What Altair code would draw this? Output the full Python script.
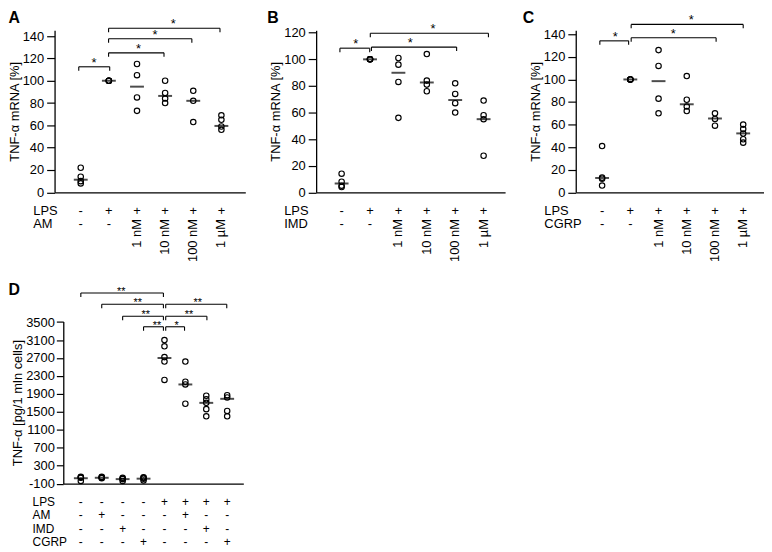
import altair as alt
import pandas as pd

FONT = "Liberation Sans"

# ---------------- data ----------------
# Panel A (AM)
a_lps = ["-", "+", "+", "+", "+", "+"]
a_dose = ["-", "-", "1 nM", "10 nM", "100 nM", "1 µM"]
a_points = [[22, 14, 10, 8], [100, 100, 100, 100], [115, 105, 85, 73],
            [100, 89, 84, 80], [91, 82, 63], [69, 65, 59, 56]]
a_median = [11.3, 100, 94.7, 86.4, 82, 59.5]
a_br_from = [-0.07, 0.99, 0.99, 0.99]
a_br_to = [1.03, 2.96, 3.95, 4.95]
a_br_level = [112.5, 125, 137.6, 147]
a_star_pos = [0.47, 2.05, 2.64, 3.29]
a_star_text = ["*", "*", "*", "*"]
a_yticks = [0, 20, 40, 60, 80, 100, 120, 140]

# Panel B (IMD)
b_lps = ["-", "+", "+", "+", "+", "+"]
b_dose = ["-", "-", "1 nM", "10 nM", "100 nM", "1 µM"]
b_points = [[14, 8, 5, 4], [100, 100, 100, 100], [101, 96, 83, 56],
            [104, 84, 81, 76], [82, 74, 67, 60], [69, 58, 55, 27.5]]
b_median = [6.6, 100, 89.9, 82.6, 69.4, 55]
b_br_from = [-0.06, 1.05, 1.01]
b_br_to = [0.99, 4.05, 5.17]
b_br_level = [108.4, 109.2, 119.6]
b_star_pos = [0.5, 2.42, 3.22]
b_star_text = ["*", "*", "*"]
b_yticks = [0, 20, 40, 60, 80, 100, 120]

# Panel C (CGRP)
c_lps = ["-", "+", "+", "+", "+", "+"]
c_dose = ["-", "-", "1 nM", "10 nM", "100 nM", "1 µM"]
c_points = [[41, 13, 12, 6], [100, 100, 100, 100], [126, 112, 83, 70],
            [103, 82, 76, 72], [70, 65, 59], [60, 56, 52, 47, 44]]
c_median = [12.7, 100, 98.5, 78, 65.4, 52.2]
c_br_from = [-0.08, 1.03, 1.03]
c_br_to = [0.94, 4.04, 5.0]
c_br_level = [134.2, 137, 148.8]
c_star_pos = [0.47, 2.52, 3.16]
c_star_text = ["*", "*", "*"]
c_yticks = [0, 20, 40, 60, 80, 100, 120, 140]

# Panel D (TNF-alpha protein)
d_lps = ["-", "-", "-", "-", "+", "+", "+", "+"]
d_am = ["-", "+", "-", "-", "-", "+", "-", "-"]
d_imd = ["-", "-", "+", "-", "-", "-", "+", "-"]
d_cgrp = ["-", "-", "-", "+", "-", "-", "-", "+"]
d_points = [[50, 40, 30, -40], [50, 40, 30, 20], [30, 10, 0, -40], [40, 30, 10, -30],
            [3100, 2960, 2720, 2620, 2210], [2620, 2170, 2110, 1680],
            [1860, 1780, 1700, 1560, 1400], [1870, 1820, 1520, 1400]]
d_median = [20, 30, 0, 10, 2700, 2110, 1700, 1790]
d_br_from = [0, 1, 2, 3, 4.06, 4.06, 4.06]
d_br_to = [3.95, 3.95, 3.95, 3.95, 6.98, 6.03, 4.96]
d_br_level = [4147, 3897, 3632, 3396, 3897, 3632, 3396]
d_star_pos = [1.93, 2.72, 3.11, 3.64, 5.59, 5.17, 4.58]
d_star_text = ["**", "**", "**", "**", "**", "**", "*"]
d_yticks = [-100, 300, 700, 1100, 1500, 1900, 2300, 2700, 3100, 3500]


def panel(letter, letter_xy, ytitle, yticks, ydomain, xdomain, width, height,
          rows, row_names, rows_y, name_x, rotated_row, points, medians,
          br_from, br_to, br_level, star_pos, star_text, star_size, star_dy,
          xrange=None, yaxis_offset=0, tick_size=8, label_pad=3, table_font=13):
    xscale = alt.Scale(domain=xdomain, nice=False, zero=False)
    if xrange is not None:
        xscale = alt.Scale(domain=xdomain, range=xrange, nice=False, zero=False)
    yscale = alt.Scale(domain=ydomain, nice=False, zero=False)
    xaxis = alt.Axis(title=None, labels=False, ticks=False, grid=False,
                     domain=True, domainWidth=1.3)
    yaxis = alt.Axis(title=ytitle, values=yticks, grid=False, tickSize=tick_size,
                     labelPadding=label_pad, offset=yaxis_offset, titlePadding=1,
                     labelExpr="'' + datum.value", domainWidth=1.3, tickWidth=1.2)

    def X(f):
        return alt.X(f + ":Q", scale=xscale, axis=xaxis)

    def Y(f):
        return alt.Y(f + ":Q", scale=yscale, axis=yaxis)

    pts = pd.DataFrame([{"pos": i, "value": v} for i, vs in enumerate(points) for v in vs])
    med = pd.DataFrame({"pos": list(range(len(medians))), "value": medians})
    br = pd.DataFrame({"x1": br_from, "x2": br_to, "value": br_level,
                       "sp": star_pos, "st": star_text})
    ends = pd.DataFrame({"pos": br_from + br_to, "value": br_level + br_level})

    layers = [
        alt.Chart(pts).mark_point(shape="circle", filled=False, size=30,
                                  strokeWidth=1.15, color="black", opacity=1)
        .encode(x=X("pos"), y=Y("value")),
        alt.Chart(med).mark_tick(orient="horizontal", size=14, thickness=2, color="black")
        .encode(x=X("pos"), y=Y("value")),
        alt.Chart(br).mark_rule(color="black", strokeWidth=1.1)
        .encode(x=X("x1"), x2="x2:Q", y=Y("value")),
        alt.Chart(ends).mark_rule(color="black", strokeWidth=1.1, y2Offset=4)
        .encode(x=X("pos"), y=Y("value"), y2="value:Q"),
        alt.Chart(br).mark_text(fontSize=star_size, baseline="alphabetic", dy=star_dy,
                                color="black")
        .encode(x=X("sp"), y=Y("value"), text="st:N"),
    ]
    # treatment table below the axis
    for ri, (labels, ry) in enumerate(zip(rows, rows_y)):
        df = pd.DataFrame({"pos": list(range(len(labels))), "t": labels})
        if ri == rotated_row:
            flat = df[df["t"].isin(["-", "+"])]
            rot = df[~df["t"].isin(["-", "+"])]
            layers.append(alt.Chart(flat).mark_text(fontSize=table_font, color="black",
                                                    baseline="middle")
                          .encode(x=X("pos"), y=alt.value(ry), text="t:N"))
            layers.append(alt.Chart(rot).mark_text(fontSize=table_font, color="black", angle=270,
                                                   align="right", baseline="middle")
                          .encode(x=X("pos"), y=alt.value(ry - 5.5), text="t:N"))
        else:
            layers.append(alt.Chart(df).mark_text(fontSize=table_font, color="black",
                                                  baseline="middle")
                          .encode(x=X("pos"), y=alt.value(ry), text="t:N"))
        layers.append(alt.Chart(pd.DataFrame({"t": [row_names[ri]]}))
                      .mark_text(fontSize=table_font, color="black", align="left",
                                 baseline="middle")
                      .encode(x=alt.value(name_x), y=alt.value(ry), text="t:N"))
    layers.append(alt.Chart(pd.DataFrame({"t": [letter]}))
                  .mark_text(fontSize=16, fontWeight="bold", color="black", align="left",
                             baseline="alphabetic")
                  .encode(x=alt.value(letter_xy[0]), y=alt.value(letter_xy[1]), text="t:N"))
    return alt.layer(*layers).properties(width=width, height=height)


H = 163.5
A = panel("A", (-46.5, -7), "TNF-α mRNA [%]", a_yticks, [0, 163.5 / 1.126],
          [-0.93, 5.85], 192.5, H, [a_lps, a_dose], ["LPS", "AM"], [182, 196], -21.5, 1,
          a_points, a_median, a_br_from, a_br_to, a_br_level, a_star_pos, a_star_text, 13, 0)
B = panel("B", (-49.3, -7), "TNF-α mRNA [%]", b_yticks, [0, 163.5 / 1.342],
          [-0.897, 5.757], 190.7, H, [b_lps, b_dose], ["LPS", "IMD"], [182, 196], -32.3, 1,
          b_points, b_median, b_br_from, b_br_to, b_br_level, b_star_pos, b_star_text, 13, 0)
C = panel("C", (-53.4, -7), "TNF-α mRNA [%]", c_yticks, [0, 163.5 / 1.139],
          [-0.934, 5.737], 190, H, [c_lps, c_dose], ["LPS", "CGRP"], [182, 196], -31.7, 1,
          c_points, c_median, c_br_from, c_br_to, c_br_level, c_star_pos, c_star_text, 13, 0)
D = panel("D", (-46.5, -26.7), "TNF-α [pg/1 mln cells]", d_yticks, [-100, -100 + 163.5 / 0.04528],
          [-0.839, 7.772], 190.5, H, [d_lps, d_am, d_imd, d_cgrp],
          ["LPS", "AM", "IMD", "CGRP"], [182.3, 195.6, 209, 222.3], -22.2, None,
          d_points, d_median, d_br_from, d_br_to, d_br_level, d_star_pos, d_star_text, 11, 2,
          xrange=[8.8, 190.5], yaxis_offset=-8.8, tick_size=7, label_pad=2, table_font=12)

chart = alt.concat(A, B, C, D, columns=3, bounds="flush",
                   spacing=alt.RowColnumber(column=71, row=130), padding=0)
chart = (chart.configure_view(stroke=None)
         .configure_axis(domainColor="black", tickColor="black", labelColor="black",
                         titleColor="black", labelFont=FONT, titleFont=FONT,
                         labelFontSize=13, titleFontSize=13, titleFontWeight="normal")
         .configure_text(font=FONT))

chart.save("out.html", embed_options={"renderer": "svg", "actions": False})
